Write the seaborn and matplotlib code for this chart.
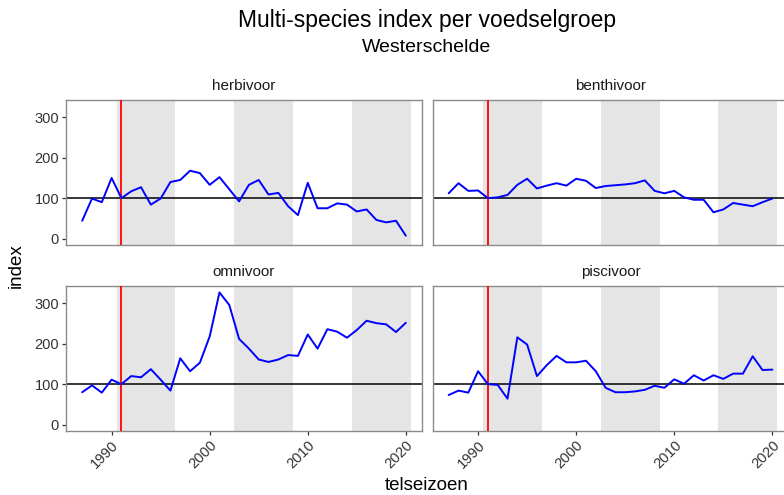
import numpy as np
import pandas as pd
import matplotlib
matplotlib.use("Agg")
import matplotlib.pyplot as plt
import seaborn as sns

# Telseizoenen en index per voedselgroep (referentiejaar 1991 = 100)
jaren = list(range(1987, 2021))

herbivoor = [44, 99, 90, 150, 100, 117, 127, 84, 99, 140, 145, 168, 162, 133, 152,
             122, 92, 133, 145, 109, 113, 80, 58, 138, 75, 75, 87, 84, 67, 72,
             46, 40, 44, 7]
benthivoor = [112, 137, 118, 119, 100, 102, 108, 133, 148, 124, 131, 137, 131, 148, 143,
              125, 130, 132, 134, 137, 144, 118, 112, 118, 102, 96, 96, 65, 72, 88,
              84, 80, 90, 99]
omnivoor = [80, 97, 79, 111, 100, 120, 117, 137, 111, 84, 164, 132, 153, 218, 327,
            296, 212, 188, 161, 155, 161, 172, 170, 223, 188, 236, 230, 215, 234, 257,
            251, 248, 229, 252]
piscivoor = [73, 84, 79, 132, 100, 98, 64, 216, 198, 120, 147, 170, 154, 154, 158,
             132, 91, 80, 80, 82, 86, 96, 91, 112, 101, 122, 109, 122, 113, 126,
             126, 169, 135, 136]

groepen = ["herbivoor", "benthivoor", "omnivoor", "piscivoor"]
reeksen = [herbivoor, benthivoor, omnivoor, piscivoor]

referentiejaar = 1991
banden = [(1990.5, 1996.5), (2002.5, 2008.5), (2014.5, 2020.5)]
x_ticks = [1990, 2000, 2010, 2020]
y_ticks = [0, 100, 200, 300]

df = pd.DataFrame({
    "telseizoen": jaren * len(groepen),
    "index": [v for r in reeksen for v in r],
    "groep": [g for g in groepen for _ in jaren],
})

sns.set_theme(style="white")
plt.rcParams["font.family"] = ["Liberation Sans", "DejaVu Sans"]

W, H = 784, 495
fig = plt.figure(figsize=(W / 100, H / 100), dpi=100)

# paneelposities in pixels: (links, boven); breedte en hoogte gelijk
pw, ph = 356, 145
panelen = {
    "herbivoor": (66, 100),
    "benthivoor": (432.5, 100),
    "omnivoor": (66, 286),
    "piscivoor": (432.5, 286),
}

tekstkleur = "#333333"
randkleur = "#8a8a8a"

for i, g in enumerate(groepen):
    left, top = panelen[g]
    ax = fig.add_axes([left / W, 1 - (top + ph) / H, pw / W, ph / H])
    for a, b in banden:
        ax.axvspan(a, b, color="#e5e5e5", lw=0, zorder=0)
    ax.axhline(100, color="black", lw=1.1, zorder=2)
    ax.axvline(referentiejaar, color="red", lw=1.3, zorder=3)
    sns.lineplot(data=df[df["groep"] == g], x="telseizoen", y="index",
                 ax=ax, color="blue", lw=1.4, zorder=4)
    ax.set_xlim(1985.35, 2021.65)
    ax.set_ylim(-16, 343)
    ax.set_xticks(x_ticks)
    ax.set_yticks(y_ticks)
    ax.set_xlabel("")
    ax.set_ylabel("")
    for s in ax.spines.values():
        s.set_visible(True)
        s.set_color(randkleur)
        s.set_linewidth(1.0)
    ax.tick_params(axis="both", length=3, width=0.9, color=tekstkleur,
                   labelsize=10.5, labelcolor=tekstkleur, pad=2,
                   bottom=(i >= 2), left=(i % 2 == 0),
                   labelbottom=(i >= 2), labelleft=(i % 2 == 0))
    if i >= 2:
        for lab in ax.get_xticklabels():
            lab.set_rotation(45)
            lab.set_ha("right")
            lab.set_va("top")
            lab.set_rotation_mode("anchor")
    ax.text(0.5, 1 + 14 / ph, g, transform=ax.transAxes, ha="center",
            va="center", fontsize=11, color="#1a1a1a")

fig.text(427 / W, 1 - 20 / H, "Multi-species index per voedselgroep",
         ha="center", va="center", fontsize=16.5, color="black")
fig.text(427 / W, 1 - 48 / H, "Westerschelde",
         ha="center", va="center", fontsize=14, color="black")
fig.text(427 / W, 1 - 485 / H, "telseizoen",
         ha="center", va="center", fontsize=13.5, color="black")
fig.text(16 / W, 1 - 266 / H, "index", rotation=90,
         ha="center", va="center", fontsize=13.5, color="black")

fig.savefig("out.png", dpi=100, facecolor="white")
